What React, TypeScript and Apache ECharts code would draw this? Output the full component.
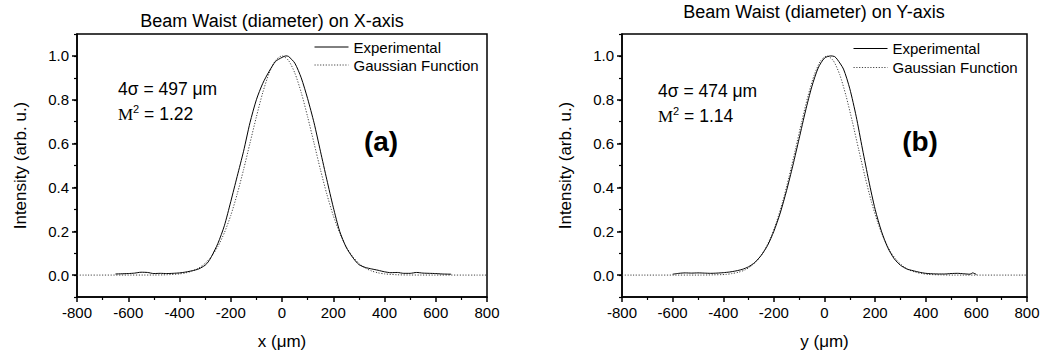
import React, { useEffect, useRef } from "react";
import * as echarts from "echarts";

// ---- Data ----
const xTicksLabel = [-800, -600, -400, -200, 0, 200, 400, 600, 800];
const yMajor = [0, 0.2, 0.4, 0.6, 0.8, 1.0];

// (a) X-axis profile, experimental
const expAx = [-650, -600, -575, -550, -525, -500, -475, -450, -425, -400, -375, -350, -325, -300, -288, -275, -250, -225, -200, -175, -150, -125, -100, -75, -50, -25, 0, 15, 25, 50, 75, 100, 125, 150, 175, 200, 225, 250, 275, 300, 325, 350, 375, 400, 425, 450, 475, 500, 525, 550, 575, 600, 625, 660];
const expAy = [0.005, 0.007, 0.009, 0.013, 0.012, 0.007, 0.008, 0.007, 0.008, 0.010, 0.014, 0.020, 0.028, 0.045, 0.060, 0.085, 0.145, 0.225, 0.335, 0.450, 0.565, 0.695, 0.800, 0.875, 0.930, 0.975, 0.993, 1.000, 0.998, 0.967, 0.900, 0.805, 0.695, 0.565, 0.435, 0.310, 0.200, 0.128, 0.082, 0.048, 0.035, 0.028, 0.022, 0.015, 0.011, 0.012, 0.008, 0.008, 0.012, 0.009, 0.008, 0.007, 0.005, 0.004];

// (a) Gaussian fit
const gauAx = [-800, -500, -450, -400, -375, -350, -325, -300, -275, -250, -225, -200, -175, -150, -125, -100, -75, -50, -25, 0, 25, 50, 75, 100, 125, 150, 175, 200, 225, 250, 275, 300, 325, 350, 375, 400, 450, 500, 800];
const gauAy = [0, 0.0003, 0.0014, 0.0055, 0.0103, 0.0186, 0.0322, 0.0536, 0.0855, 0.131, 0.193, 0.272, 0.369, 0.481, 0.602, 0.722, 0.833, 0.922, 0.980, 1.0, 0.980, 0.922, 0.833, 0.722, 0.602, 0.481, 0.369, 0.272, 0.193, 0.131, 0.0855, 0.0536, 0.0322, 0.0186, 0.0103, 0.0055, 0.0014, 0.0003, 0];

// (b) Y-axis profile, experimental
const expBx = [-600, -575, -550, -525, -500, -475, -450, -425, -400, -375, -350, -325, -300, -275, -250, -225, -200, -175, -150, -125, -100, -75, -50, -25, 0, 25, 40, 50, 75, 100, 125, 150, 175, 200, 225, 250, 275, 300, 325, 350, 375, 400, 425, 450, 475, 500, 525, 550, 575, 585, 600];
const expBy = [0.004, 0.008, 0.010, 0.009, 0.010, 0.009, 0.008, 0.009, 0.011, 0.014, 0.019, 0.026, 0.038, 0.058, 0.090, 0.135, 0.200, 0.283, 0.385, 0.500, 0.624, 0.749, 0.860, 0.945, 0.990, 1.000, 0.997, 0.985, 0.940, 0.850, 0.725, 0.575, 0.430, 0.300, 0.200, 0.125, 0.075, 0.045, 0.028, 0.020, 0.013, 0.008, 0.006, 0.005, 0.005, 0.007, 0.008, 0.006, 0.004, 0.010, 0.003];

// (b) Gaussian fit
const gauBx = [-800, -490, -440, -390, -365, -340, -315, -290, -265, -240, -215, -190, -165, -140, -115, -90, -65, -40, -15, 10, 35, 60, 85, 110, 135, 160, 185, 210, 235, 260, 285, 310, 335, 360, 385, 410, 460, 510, 800];
const gauBy = [0, 0, 0.001, 0.003, 0.007, 0.013, 0.023, 0.041, 0.068, 0.108, 0.165, 0.241, 0.336, 0.449, 0.573, 0.700, 0.818, 0.915, 0.978, 1.0, 0.978, 0.915, 0.818, 0.700, 0.573, 0.449, 0.336, 0.241, 0.165, 0.108, 0.068, 0.041, 0.023, 0.013, 0.007, 0.003, 0.001, 0, 0];

const seriesNames = ["Experimental", "Gaussian Function"];
const titles = ["Beam Waist (diameter) on X-axis", "Beam Waist (diameter) on Y-axis"];
const xNames = ["x (μm)", "y (μm)"];
const yName = "Intensity (arb. u.)";
const sigmaTexts = ["4σ = 497 μm", "4σ = 474 μm"];
const m2Values = ["1.22", "1.14"];
const panelTags = ["(a)", "(b)"];

const FONT = "'Liberation Sans', Arial, Helvetica, sans-serif";
const SERIF = "'Liberation Serif', 'Times New Roman', serif";

const pairs = (xs: number[], ys: number[]) => xs.map((x, i) => [x, ys[i]]);

export default function App() {
  const ref = useRef<HTMLDivElement>(null);

  useEffect(() => {
    if (!ref.current) return;
    const chart = echarts.init(ref.current, null, { renderer: "svg" });

    const grids = [
      { left: 77, top: 34, width: 410, height: 263 },
      { left: 622, top: 34, width: 405, height: 263 },
    ];

    const xAxis = [0, 1].map((g) => ({
      gridIndex: g,
      type: "value",
      min: -800,
      max: 800,
      interval: 200,
      axisLine: { show: true, onZero: false, lineStyle: { color: "#000", width: 1.5 } },
      axisTick: { show: true, inside: false, length: 5, lineStyle: { color: "#000", width: 1.5 } },
      minorTick: { show: true, splitNumber: 2, length: 3, lineStyle: { color: "#000", width: 1.2 } },
      splitLine: { show: false },
      minorSplitLine: { show: false },
      axisLabel: {
        margin: 8,
        fontSize: 15,
        color: "#000",
        fontFamily: FONT,
        customValues: xTicksLabel,
      },
      name: xNames[g],
      nameLocation: "middle",
      nameGap: 36,
      nameTextStyle: { fontSize: 17, color: "#000", fontFamily: FONT },
    }));

    const yAxis: any[] = [];
    [0, 1].forEach((g) => {
      yAxis.push({
        gridIndex: g,
        type: "value",
        min: -0.1,
        max: 1.1,
        position: "left",
        axisLine: { show: true, onZero: false, lineStyle: { color: "#000", width: 1.5 } },
        axisTick: { show: true, inside: false, length: 5, customValues: yMajor, lineStyle: { color: "#000", width: 1.5 } },
        axisLabel: {
          margin: 8,
          fontSize: 15,
          color: "#000",
          fontFamily: FONT,
          customValues: yMajor,
          formatter: (v: number) => v.toFixed(1),
        },
        splitLine: { show: false },
        name: yName,
        nameLocation: "middle",
        nameGap: 48,
        nameTextStyle: { fontSize: 17, color: "#000", fontFamily: FONT },
      });
      yAxis.push({
        gridIndex: g,
        type: "value",
        min: -0.1,
        max: 1.1,
        interval: 0.1,
        position: "left",
        offset: 0,
        axisLine: { show: false, onZero: false },
        axisTick: { show: true, inside: false, length: 3, lineStyle: { color: "#000", width: 1.2 } },
        axisLabel: { show: false },
        splitLine: { show: false },
      });
    });

    const mk = (name: string, g: number, data: number[][], dotted: boolean) => ({
      name,
      type: "line",
      xAxisIndex: g,
      yAxisIndex: g * 2,
      data,
      symbol: "none",
      smooth: 0.25,
      z: dotted ? 2 : 3,
      lineStyle: dotted
        ? { color: "#444", width: 1, type: [1.2, 1.6] }
        : { color: "#000", width: 1, type: "solid" },
      itemStyle: { color: dotted ? "#444" : "#000" },
    });

    const legendBase = {
      data: seriesNames,
      orient: "vertical",
      padding: 0,
      itemGap: 0,
      itemWidth: 34,
      itemHeight: 10,
      selectedMode: false,
      itemStyle: { opacity: 0 },
      lineStyle: { width: 1 },
      textStyle: { fontSize: 15, color: "#000", fontFamily: FONT, lineHeight: 18 },
    };

    const textEl = (text: string, x: number, y: number, size: number, extra: any = {}) => ({
      type: "text",
      x,
      y,
      style: {
        text,
        fontSize: size,
        fontFamily: FONT,
        fill: "#000",
        align: "left",
        verticalAlign: "middle",
        ...extra,
      },
    });

    const m2El = (val: string, x: number, y: number) => ({
      type: "text",
      x,
      y,
      style: {
        text: `{m|M}{s|2}{n| = ${val}}`,
        fill: "#000",
        align: "left",
        verticalAlign: "middle",
        rich: {
          m: { fontFamily: SERIF, fontSize: 17, lineHeight: 19, fill: "#000", verticalAlign: "bottom" },
          s: { fontFamily: FONT, fontSize: 11, lineHeight: 12, fill: "#000", verticalAlign: "top" },
          n: { fontFamily: FONT, fontSize: 17.5, lineHeight: 19, fill: "#000", verticalAlign: "bottom" },
        },
      },
    });

    chart.setOption({
      animation: false,
      backgroundColor: "#fff",
      grid: grids.map((g) => ({
        ...g,
        show: true,
        borderColor: "#000",
        borderWidth: 1.5,
        backgroundColor: "transparent",
        containLabel: false,
      })),
      xAxis,
      yAxis,
      legend: [
        { ...legendBase, left: 314, top: 38 },
        { ...legendBase, left: 853, top: 39, textStyle: { ...legendBase.textStyle, lineHeight: 19 } },
      ],
      series: [
        mk(seriesNames[1], 0, pairs(gauAx, gauAy), true),
        mk(seriesNames[0], 0, pairs(expAx, expAy), false),
        mk(seriesNames[1], 1, pairs(gauBx, gauBy), true),
        mk(seriesNames[0], 1, pairs(expBx, expBy), false),
      ],
      graphic: [
        textEl(titles[0], 272, 21, 18, { align: "center" }),
        textEl(titles[1], 814, 12, 18, { align: "center" }),
        textEl(sigmaTexts[0], 118, 89, 17.5),
        m2El(m2Values[0], 118, 113),
        textEl(sigmaTexts[1], 658, 91, 17.5),
        m2El(m2Values[1], 658, 115),
        textEl(panelTags[0], 381, 141, 28, { align: "center", fontWeight: "bold" }),
        textEl(panelTags[1], 920, 141, 28, { align: "center", fontWeight: "bold" }),
      ],
    });

    return () => chart.dispose();
  }, []);

  return (
    <div
      ref={ref}
      style={{ position: "absolute", left: 0, top: 0, width: 1049, height: 360, background: "#fff" }}
    />
  );
}
